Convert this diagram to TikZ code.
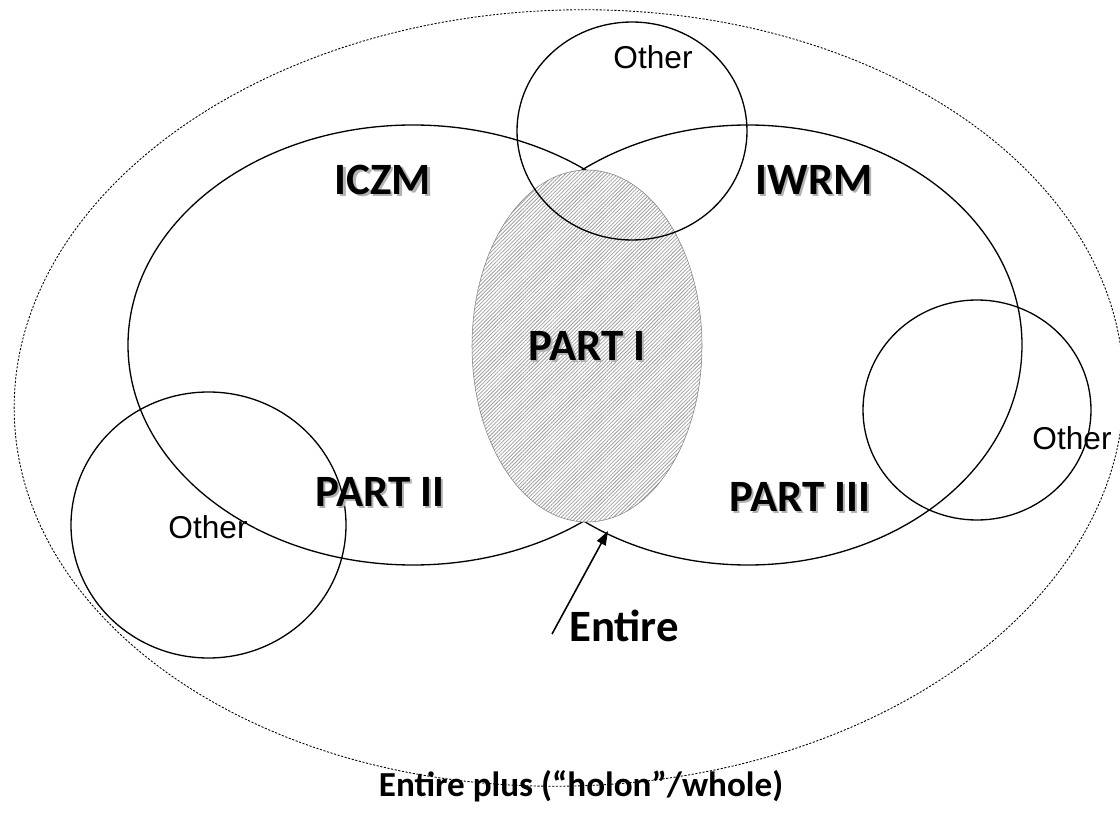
\documentclass[tikz,border=0pt]{standalone}
\usepackage{fontspec}
\setmainfont{Carlito}
\newfontfamily\arialf{Liberation Sans}
\usetikzlibrary{patterns.meta,arrows.meta}
\newcommand\shtext[1]{\makebox[0pt][l]{\hspace{1.3pt}\raisebox{-1.3pt}{\textcolor{black!30}{#1}}}#1}
\begin{document}
\begin{tikzpicture}[x=0.02cm,y=-0.02cm,
  ring/.style={draw=black,line width=0.75pt},
  outerring/.style={draw=black,line width=0.5pt,dash pattern=on 1.2pt off 0.9pt},
  lbl/.style={font=\fontsize{25.5}{30}\selectfont\bfseries,inner sep=0pt},
  oth/.style={font=\arialf\fontsize{18}{22}\selectfont,inner sep=0pt},
  core/.style={draw=gray,line width=0.3pt,preaction={fill=white},
    pattern={Lines[angle=45,distance=1.5pt,line width=0.45pt]},pattern color=gray!75}
]
\useasboundingbox (0,0) rectangle (1120,814);
\fill[white] (0,0) rectangle (1120,814);
% outer whole
\draw[outerring, rotate around={2:(569,398)}] (569,398) ellipse [x radius=555, y radius=388];
% ICZM and IWRM
\draw[ring] (413,345) ellipse [x radius=285, y radius=220];
\draw[ring] (748,345) ellipse [x radius=274, y radius=220];
% other circles left and right
\draw[ring] (208.5,525) ellipse [x radius=137.5, y radius=133];
\draw[ring] (977,410) ellipse [x radius=114, y radius=110];
% core (part I)
\path[core] (587,346) ellipse [x radius=115, y radius=176];
% top other circle
\draw[ring] (632,131) ellipse [x radius=115, y radius=109];
% labels
\node[lbl] (iczm) at (383,181) {\shtext{ICZM}};
\node[lbl] (iwrm) at (814,181) {\shtext{IWRM}};
\node[lbl] (p1) at (587,347) {\shtext{PART I}};
\node[lbl] (p2) at (380,493) {\shtext{PART II}};
\node[lbl] (p3) at (800,498) {\shtext{PART III}};
\node[oth] (o1) at (653,57) {Other};
\node[oth] (o2) at (208,527) {Other};
\node[oth] (o3) at (1072,438) {Other};
\node[lbl] (entire) at (624,626) {Entire};
\node[font=\fontsize{20}{24}\selectfont\bfseries,inner sep=0pt] (whole) at (581,786) {Entire plus (“holon”/whole)};
% arrow
\coordinate (tail) at (552,634);
\coordinate (tip) at (608,531);
\draw[line width=0.9pt,-{Triangle[length=8pt,width=5.5pt]}] (tail) -- (tip);
\end{tikzpicture}
\end{document}
